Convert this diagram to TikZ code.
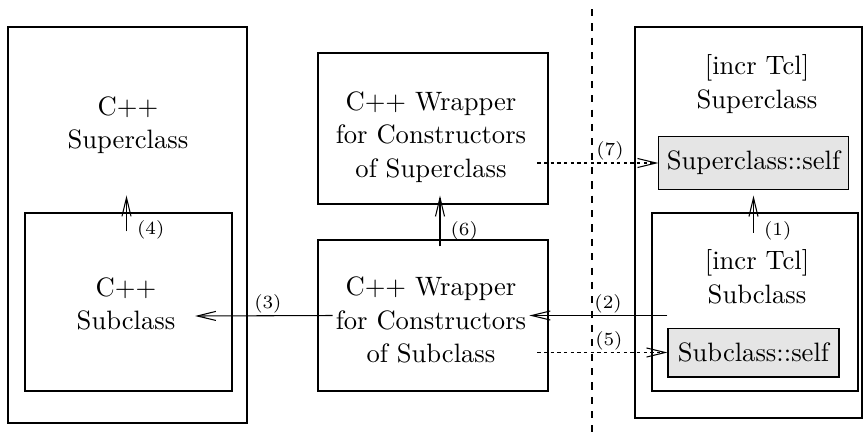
\documentclass[tikz,border=0pt]{standalone}
\usepackage{tikz}
\usetikzlibrary{arrows.meta,fit}

\begin{document}
\begin{tikzpicture}[
    x=0.376pt, y=-0.376pt,
    box/.style={rectangle, draw, inner sep=0pt},
    selfbox/.style={box, fill=black!10},
    txt/.style={align=center, inner sep=1pt, font=\fontsize{10}{12.6}\selectfont},
    arr/.style={-{Straight Barb[length=7pt, width=3.4pt]}},
    dotarr/.style={arr, dash pattern=on 1.25pt off 1.25pt},
    num/.style={font=\scriptsize, inner sep=0.8pt},
    divider/.style={dash pattern=on 2.7pt off 2.7pt}
  ]
  \useasboundingbox (0,0) rectangle (864,432);

  % C++ side
  \node[box, fit={(8,27) (247,423)}] (cppsup) {};
  \node[box, fit={(25,213) (232,391)}] (cppsub) {};
  \node[txt] (cppsuptxt) at (128,125) {C++\\Superclass};
  \node[txt] (cppsubtxt) at (126,304) {C++\\Subclass};
  \coordinate (cppsubin) at (195,316);

  % constructor wrappers
  \node[box, fit={(318,53) (548,204)}] (wrapsup) {};
  \node[box, fit={(318,240) (548,391)}] (wrapsub) {};
  \node[txt] (wrapsuptxt) at (431,137) {C++ Wrapper\\for Constructors\\of Superclass};
  \node[txt] (wrapsubtxt) at (431,320) {C++ Wrapper\\for Constructors\\of Subclass};

  % [incr Tcl] side
  \node[box, fit={(635,27) (862,418)}] (tclsup) {};
  \node[box, fit={(652,213) (858,391)}] (tclsub) {};
  \node[txt] (tclsuptxt) at (757,84) {[incr Tcl]\\Superclass};
  \node[txt] (tclsubtxt) at (757,277) {[incr Tcl]\\Subclass};
  \node[selfbox, minimum width=71.1pt, minimum height=19.6pt] (supself) at (753.5,163) {Superclass::self};
  \node[selfbox, minimum width=64.3pt, minimum height=18.4pt] (subself) at (753.5,352.5) {Subclass::self};

  \draw[divider] (592,9) -- (592,432);

  % call sequence
  \draw[arr] ([shift={(0,43)}]supself.south) -- node[num, right=3pt, pos=0.05] {(1)} ([shift={(0,6)}]supself.south);
  \draw[arr] (subself.west |- wrapsub.center) -- node[num, above, pos=0.43] {(2)} (wrapsubtxt.east |- wrapsub.center);
  \draw[arr] (wrapsubtxt.west |- wrapsub.center) -- node[num, above, pos=0.47] {(3)} (cppsubin);
  \draw[arr] ([shift={(-2,19)}]cppsub.north) -- node[num, right=3pt, pos=0.05] {(4)} ([shift={(-2,-17)}]cppsub.north);
  \draw[dotarr] ([xshift=3pt]wrapsubtxt.east |- subself.west) -- node[num, above, pos=0.55] {(5)} (subself.west);
  \draw[arr] ([shift={(7,7)}]wrapsub.north) -- node[num, right=3pt, pos=0.3] {(6)} ([shift={(7,-9)}]wrapsup.south);
  \draw[dotarr] ([xshift=3pt]wrapsuptxt.east |- supself.west) -- node[num, above, pos=0.6] {(7)} (supself.west);
\end{tikzpicture}
\end{document}
